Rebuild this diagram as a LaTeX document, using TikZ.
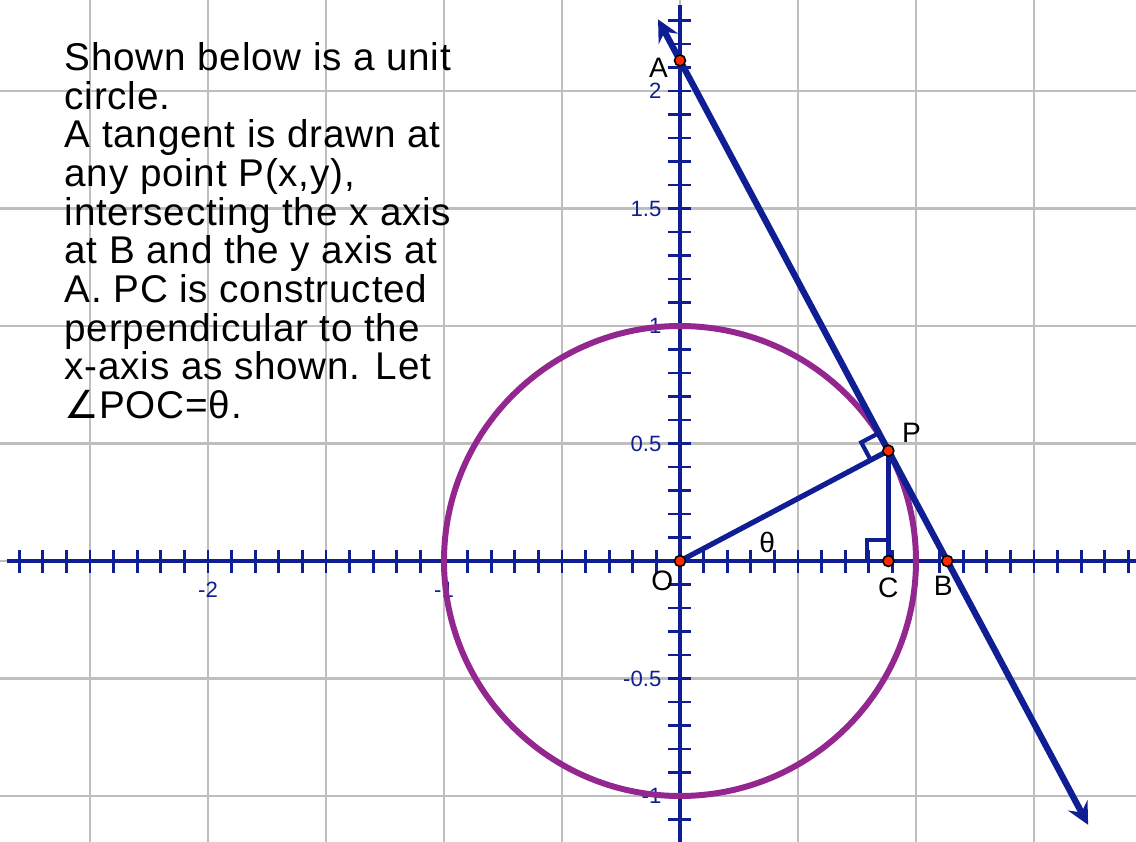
\documentclass[tikz,border=0pt]{standalone}
\usepackage{fontspec}
\setmainfont{Liberation Sans}
\newfontfamily\introfont{Liberation Sans}[LetterSpace=2]
\newfontfamily\symfont{DejaVu Sans}
\usepackage{tikz}
\usetikzlibrary{arrows.meta,positioning,calc}
\definecolor{AxisBlue}{HTML}{0F1E93}
\definecolor{CirclePurple}{HTML}{93278F}
\definecolor{GridGray}{HTML}{BEBEBE}
\definecolor{PointRed}{HTML}{FF2A00}

\begin{document}
\begin{tikzpicture}[x=2.36cm, y=2.35cm, every node/.style={font=\fontsize{8}{9}\selectfont, inner sep=0pt}, gridline/.style={color=GridGray, line width=0.6pt}, axis/.style={color=AxisBlue, line width=1.3pt}, tickmark/.style={color=AxisBlue, line width=0.8pt}, ticklabel/.style={color=AxisBlue, font=\fontsize{6.3}{7}\selectfont}, ring/.style={color=CirclePurple, line width=1.7pt}, seg/.style={color=AxisBlue, line width=1.5pt}, tangent/.style={<->, >={Stealth[length=2.2mm,width=2.2mm,inset=0.8mm]}, color=AxisBlue, line width=1.8pt}, rightang/.style={color=AxisBlue, line width=1.2pt}, pt/.style={circle, draw=black, fill=PointRed, line width=0.45pt, minimum size=0.11cm}, ptlabel/.style={font=\fontsize{8}{9}\selectfont}]
\useasboundingbox (-6.80cm,-2.81cm) rectangle (4.56cm,5.61cm);
% grid
\foreach \x in {-2.5,-2,...,1.5}{\draw[gridline] (\x,-1.3) -- (\x,2.5);}
\foreach \y in {-1,-0.5,...,2}{\draw[gridline] (-3,\y) -- (2,\y);}
% tick labels
\foreach \v [count=\i] in {-2,-1}{\node[ticklabel] (xl\i) at (\v,-0.123) {\v};}
\foreach \v [count=\i] in {2,1.5,1,0.5,-0.5,-1}{\node[ticklabel, anchor=east] (yl\i) at (-0.076,\v) {\v};}
% axes
\draw[axis] (-2.85,0) -- (1.95,0);
\draw[axis] (0,2.366) -- (0,-1.25);
\foreach \i in {-28,...,19}{\draw[tickmark] (\i/10,0) +(0,-0.115cm) -- +(0,0.115cm);}
\foreach \i in {-12,...,23}{\draw[tickmark] (0,\i/10) +(-0.115cm,0) -- +(0.115cm,0);}
% points
\coordinate (O) at (0,0);
\coordinate (P) at (28:1);
\coordinate (A) at (0,{1/sin(28)});
\coordinate (B) at ({1/cos(28)},0);
\coordinate (C) at ({cos(28)},0);
\coordinate (T1) at ($(A)!-0.082!(B)$);
\coordinate (T2) at ($(A)!1.527!(B)$);
\draw[ring] (O) circle [radius=1];
\draw[tangent] (T1) -- (T2);
\draw[seg] (O) -- (P);
\draw[seg] (P) -- (C);
% right angles
\coordinate (p1) at ($(P)!0.2cm!(O)$);
\coordinate (p2) at ($(P)!0.2cm!(A)$);
\draw[rightang] (p1) -- ($(p1)+(p2)-(P)$) -- (p2);
\draw[rightang] ($(C)+(-0.21cm,0)$) -- ++(0,0.21cm) -- ($(C)+(0,0.21cm)$);
\foreach \n in {O,P,A,B,C}{\node[pt] (dot\n) at (\n) {};}
\node[ptlabel, left=0.115cm of A, yshift=-0.07cm] (labA) {A};
\node[ptlabel, right=0.13cm of P, yshift=0.18cm] (labP) {P};
\node[ptlabel, below=0.16cm of C] (labC) {C};
\node[ptlabel, below=0.14cm of B, xshift=-0.04cm] (labB) {B};
\node[ptlabel, below left=0.09cm and 0.06cm of O] (labO) {O};
\node[ptlabel] (labT) at (0.369,0.077) {θ};
% text
\node[anchor=north west, align=left, font=\introfont\fontsize{11}{11}\selectfont] (intro) at (-2.61,2.209) {Shown below is a unit\\circle.\\A tangent is drawn at\\any point P(x,y),\\intersecting the x axis\\at B and the y axis at\\A. PC is constructed\\perpendicular to the\\x-axis as shown. Let\\{\symfont ∠}POC=θ.};
\end{tikzpicture}
\end{document}
